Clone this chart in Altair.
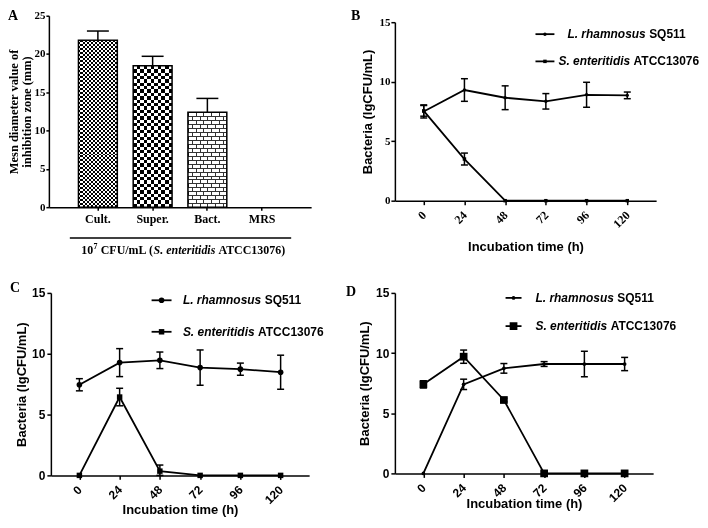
import altair as alt
import pandas as pd

# ---------------- data ----------------
bar_categories = ["Cult.", "Super.", "Bact.", "MRS"]
bar_means = [21.8, 18.45, 12.4, 0.0]
bar_sd = [1.2, 1.25, 1.8, 0.0]
bar_axis_title = ["Mesn diameter value of", "inhibition zone (mm)"]
bar_note_parts = ["10", "7", "CFU/mL (", "S. enteritidis", "ATCC13076)"]
bar_ticks = [0, 5, 10, 15, 20, 25]

times = [0, 24, 48, 72, 96, 120]
series_species = ["L. rhamnosus", "S. enteritidis"]
series_strain = ["SQ511", "ATCC13076"]

b_lr = [7.5, 9.3, 8.65, 8.35, 8.9, 8.85]
b_lr_sd = [0.55, 0.95, 1.0, 0.65, 1.05, 0.28]
b_se = [7.55, 3.5, 0, 0, 0, 0]
b_se_sd = [0.45, 0.5, 0, 0, 0, 0]

c_lr = [7.45, 9.27, 9.46, 8.86, 8.73, 8.48]
c_lr_sd = [0.5, 1.15, 0.68, 1.45, 0.5, 1.4]
c_se = [0, 6.44, 0.35, 0, 0, 0]
c_se_sd = [0, 0.72, 0.5, 0, 0, 0]

d_lr = [0, 7.4, 8.73, 9.09, 9.09, 9.09]
d_lr_sd = [0, 0.43, 0.4, 0.2, 1.06, 0.55]
d_se = [7.4, 9.7, 6.1, 0, 0, 0]
d_se_sd = [0.3, 0.55, 0.15, 0, 0, 0]

x_ticks = [0, 24, 48, 72, 96, 120]
y_ticks = [0, 5, 10, 15]
x_title = "Incubation time (h)"
y_title = "Bacteria (lgCFU/mL)"
panel_letters = ["A", "B", "C", "D"]

SERIF = "Liberation Serif, Times New Roman, serif"
SANS = "Liberation Sans, Arial, sans-serif"
one = pd.DataFrame({"k": [0]})


def label_text(txt, x, y, font, size, weight="bold", style="normal", align="left", baseline="top"):
    return alt.Chart(one).mark_text(
        align=align, baseline=baseline, font=font, fontSize=size,
        fontWeight=weight, fontStyle=style, color="black"
    ).encode(x=alt.value(x), y=alt.value(y), text=alt.value(txt))


# ---------------- panel A ----------------
A_W, A_H = 263, 192
A_YMAX = 25
PAD_IN, PAD_OUT = 0.29, 0.54
step = A_W / (len(bar_categories) - PAD_IN + 2 * PAD_OUT)
band_w = step * (1 - PAD_IN)
ppu = A_H / A_YMAX

a_df = pd.DataFrame({"cat": bar_categories, "mean": bar_means, "sd": bar_sd})
a_df["top"] = a_df["mean"] + a_df["sd"]

a_x_axis = alt.Axis(title=None, labelAngle=0, labelFont=SERIF, labelFontSize=12,
                    labelFontWeight="bold", labelColor="black", labelPadding=3,
                    tickSize=3, tickWidth=1.5, tickColor="black",
                    domainColor="black", domainWidth=1.5, grid=False)
a_y_axis = alt.Axis(title=bar_axis_title, values=bar_ticks, labelFont=SERIF, labelFontSize=11,
                    labelFontWeight="bold", labelColor="black", labelPadding=1,
                    tickSize=3, tickWidth=1.5, tickColor="black",
                    domainColor="black", domainWidth=1.5, grid=False,
                    titleFont=SERIF, titleFontSize=12.5, titleFontWeight="bold",
                    titleColor="black", titleX=-35, titleY=A_H / 2, titleAngle=270,
                    titleAlign="center", titleBaseline="middle", titleLineHeight=12.5)


def ax():
    return alt.X("cat:N", scale=alt.Scale(domain=bar_categories, paddingInner=PAD_IN,
                                          paddingOuter=PAD_OUT), axis=a_x_axis)


def ay(field):
    return alt.Y(f"{field}:Q", scale=alt.Scale(domain=[0, A_YMAX], nice=False), axis=a_y_axis)


def grad(direction, segs):
    stops = []
    for s, e, c in segs:
        s = max(0.0, min(1.0, s))
        e = max(0.0, min(1.0, e))
        stops.append({"offset": s, "color": c})
        stops.append({"offset": e, "color": c})
    if direction == "y":
        return {"gradient": "linear", "x1": 0, "y1": 0, "x2": 0, "y2": 1, "stops": stops}
    return {"gradient": "linear", "x1": 0, "y1": 0, "x2": 1, "y2": 0, "stops": stops}


def stripes(n, c0, c1):
    return [(k / n, (k + 1) / n, c0 if k % 2 == 0 else c1) for k in range(n)]


def bar_layer(cat, fill, blend=None, opacity=1.0):
    kw = dict(fill=grad(fill[0], fill[1]) if isinstance(fill, tuple) else fill,
              fillOpacity=opacity, strokeWidth=0)
    if blend:
        kw["blend"] = blend
    return alt.Chart(a_df).transform_filter(alt.datum.cat == cat).mark_bar(**kw).encode(
        x=ax(), y=ay("mean"))


a_layers = []
# Cult.: fine checker
h0 = bar_means[0] * ppu
a_layers.append(bar_layer(bar_categories[0], ("y", stripes(round(h0 / 2.0), "#000", "#fff"))))
a_layers.append(bar_layer(bar_categories[0], ("x", stripes(round(band_w / 2.0), "#fff", "#000")), "difference"))
# Super.: coarse checker
h1 = bar_means[1] * ppu
a_layers.append(bar_layer(bar_categories[1], ("y", stripes(round(h1 / 3.4), "#000", "#fff"))))
a_layers.append(bar_layer(bar_categories[1], ("x", stripes(round(band_w / 3.4), "#fff", "#000")), "difference"))
# Bact.: bricks
h2 = bar_means[2] * ppu
nr = round(h2 / 4.0)
nc = round(band_w / 4.0)
tx = 1.0 / band_w
ty = 1.0 / h2
G = []
L0 = []
for j in range(nc):
    G += [(j / nc, j / nc + tx, "#fff"), (j / nc + tx, (j + 1) / nc, "#000")]
    L0 += [(j / nc, j / nc + tx, "#fff" if j % 2 == 0 else "#000"), (j / nc + tx, (j + 1) / nc, "#000")]
M = [(k / nr, (k + 1) / nr, "#fff" if k % 2 else "#000") for k in range(nr)]
Hh = []
for k in range(nr):
    Hh += [(k / nr, k / nr + ty, "#fff"), (k / nr + ty, (k + 1) / nr, "#000")]
a_layers.append(bar_layer(bar_categories[2], ("x", G)))
a_layers.append(bar_layer(bar_categories[2], ("y", M), "multiply"))
a_layers.append(bar_layer(bar_categories[2], ("x", L0), "difference"))
a_layers.append(bar_layer(bar_categories[2], ("y", Hh), "lighten"))
a_layers.append(bar_layer(bar_categories[2], "#ffffff", "difference"))
a_layers.append(bar_layer(bar_categories[2], "#ffffff", None, 0.2))

# outlines
a_layers.append(alt.Chart(a_df).transform_filter(alt.datum.mean > 0)
                .mark_bar(fill="transparent", stroke="black", strokeWidth=1.5)
                .encode(x=ax(), y=ay("mean")))
# error bars (upper only)
a_err = alt.Chart(a_df).transform_filter(alt.datum.sd > 0)
a_layers.append(a_err.mark_rule(color="black", strokeWidth=1.5).encode(x=ax(), y=ay("mean"), y2="top:Q"))
a_layers.append(a_err.mark_tick(color="black", size=22, thickness=1.5, opacity=1).encode(x=ax(), y=ay("top")))

# group note under the x axis
a_layers.append(alt.Chart(one).mark_rule(color="black", strokeWidth=1.5)
                .encode(x=alt.value(21), x2=alt.value(243), y=alt.value(223)))
nx0 = 32.5
ny0 = 238.5
a_layers.append(label_text(bar_note_parts[0], nx0, ny0, SERIF, 12, baseline="alphabetic"))
a_layers.append(label_text(bar_note_parts[1], nx0 + 12.2, ny0 - 5, SERIF, 8, baseline="alphabetic"))
a_layers.append(label_text(bar_note_parts[2], nx0 + 19.5, ny0, SERIF, 12, baseline="alphabetic"))
a_layers.append(label_text(bar_note_parts[3], nx0 + 72.5, ny0, SERIF, 12, style="italic", baseline="alphabetic"))
a_layers.append(label_text(bar_note_parts[4], nx0 + 137.5, ny0, SERIF, 12, baseline="alphabetic"))
a_layers.append(label_text(panel_letters[0], -41, -7, SERIF, 14))

panel_a = alt.layer(*a_layers).properties(width=A_W, height=A_H)

# ---------------- line panels ----------------
XMIN, XMAX = -17, 137


def line_panel(W, H, lr, lr_sd, se, se_sd, cfg):
    df = pd.DataFrame({
        "t": times + times,
        "v": lr + se,
        "sd": lr_sd + se_sd,
        "s": [0] * len(times) + [1] * len(times),
    })
    cap = 3.5 / (W / (XMAX - XMIN))
    df["lo"] = (df["v"] - df["sd"]).clip(lower=0)
    df["hi"] = df["v"] + df["sd"]
    df["c1"] = df["t"] - cap
    df["c2"] = df["t"] + cap

    tick_font = cfg["tick_font"]
    x_axis = alt.Axis(title=x_title, values=x_ticks, labelAngle=315, labelFont=tick_font,
                      labelFontSize=12, labelFontWeight="bold", labelColor="black",
                      labelAlign="right", labelBaseline="middle",
                      labelPadding=8, labelOverlap=False, labelFlush=False,
                      tickSize=4, tickWidth=1.5, tickColor="black",
                      domainColor="black", domainWidth=1.5, grid=False,
                      titleFont=SANS, titleFontSize=13, titleFontWeight="bold",
                      titleColor="black", titleY=cfg["xtitle_y"], titleBaseline="middle",
                      titleAlign="center")
    y_axis = alt.Axis(title=y_title, values=y_ticks, labelFont=tick_font,
                      labelFontSize=cfg["ylab_size"], labelFontWeight="bold", labelColor="black",
                      labelPadding=cfg["ylab_pad"], tickSize=4, tickWidth=1.5, tickColor="black",
                      domainColor="black", domainWidth=1.5, grid=False,
                      titleFont=SANS, titleFontSize=13, titleFontWeight="bold",
                      titleColor="black", titleX=cfg["ytitle_x"], titleY=H / 2, titleAngle=270,
                      titleAlign="center", titleBaseline="middle")

    def X(f):
        return alt.X(f"{f}:Q", scale=alt.Scale(domain=[XMIN, XMAX], nice=False, zero=False), axis=x_axis)

    def Y(f):
        return alt.Y(f"{f}:Q", scale=alt.Scale(domain=[0, 15], nice=False), axis=y_axis)

    base = alt.Chart(df)
    err = base.transform_filter(alt.datum.sd > 0)
    layers = [
        base.mark_line(color="black", strokeWidth=1.8).encode(x=X("t"), y=Y("v"), detail="s:N"),
        err.mark_rule(color="black", strokeWidth=1.5).encode(x=X("t"), y=Y("lo"), y2="hi:Q"),
        err.mark_rule(color="black", strokeWidth=1.5).encode(x=X("c1"), x2="c2:Q", y=Y("hi")),
        err.mark_rule(color="black", strokeWidth=1.5).encode(x=X("c1"), x2="c2:Q", y=Y("lo")),
    ]
    shapes = ["circle", "square"]
    for si in range(2):
        layers.append(base.transform_filter(alt.datum.s == si).mark_point(
            filled=True, shape=shapes[si], size=cfg["sizes"][si], color="black", opacity=1
        ).encode(x=X("t"), y=Y("v")))

    # legend
    lx1, lx2 = cfg["leg_line"]
    species_w = [82.0, 75.4]
    for si in range(2):
        ly = cfg["leg_y"][si]
        tx0 = cfg["leg_text"][si]
        layers.append(alt.Chart(one).mark_rule(color="black", strokeWidth=1.8)
                      .encode(x=alt.value(lx1), x2=alt.value(lx2), y=alt.value(ly)))
        layers.append(alt.Chart(one).mark_point(filled=True, shape=shapes[si], size=cfg["sizes"][si],
                                                color="black", opacity=1)
                      .encode(x=alt.value((lx1 + lx2) / 2), y=alt.value(ly)))
        layers.append(label_text(series_species[si], tx0, ly, SANS, 12, style="italic", baseline="middle"))
        layers.append(label_text(series_strain[si], tx0 + species_w[si], ly, SANS, 12, baseline="middle"))

    layers.append(label_text(cfg["letter"], cfg["letter_xy"][0], cfg["letter_xy"][1], SERIF, 14))
    return alt.layer(*layers).properties(width=W, height=H)


panel_b = line_panel(262, 179, b_lr, b_lr_sd, b_se, b_se_sd, {
    "tick_font": SERIF, "ylab_size": 11, "ylab_pad": 1, "xtitle_y": 46, "ytitle_x": -27.6,
    "sizes": [12, 12], "leg_line": (141, 160), "leg_y": [12, 39.3], "leg_text": [173, 164],
    "letter": panel_letters[1], "letter_xy": (-44, -13.5),
})
panel_c = line_panel(259, 183, c_lr, c_lr_sd, c_se, c_se_sd, {
    "tick_font": SANS, "ylab_size": 12, "ylab_pad": 2, "xtitle_y": 34, "ytitle_x": -29,
    "sizes": [32, 30], "leg_line": (101, 121), "leg_y": [7.4, 39], "leg_text": [132.4, 132.4],
    "letter": panel_letters[2], "letter_xy": (-41, -12),
})
panel_d = line_panel(259, 181, d_lr, d_lr_sd, d_se, d_se_sd, {
    "tick_font": SANS, "ylab_size": 12, "ylab_pad": 2, "xtitle_y": 30.5, "ytitle_x": -30.7,
    "sizes": [14, 60], "leg_line": (111, 127), "leg_y": [5, 33.3], "leg_text": [141, 141],
    "letter": panel_letters[3], "letter_xy": (-49, -8),
})

chart = alt.concat(
    panel_a, panel_b, panel_c, panel_d, columns=2,
    spacing={"row": 86, "column": 84}, bounds="flush", center=True, align="all"
).properties(padding=0, background="white").configure_view(stroke=None)

chart.save("out.html", embed_options={"renderer": "svg", "actions": False})
